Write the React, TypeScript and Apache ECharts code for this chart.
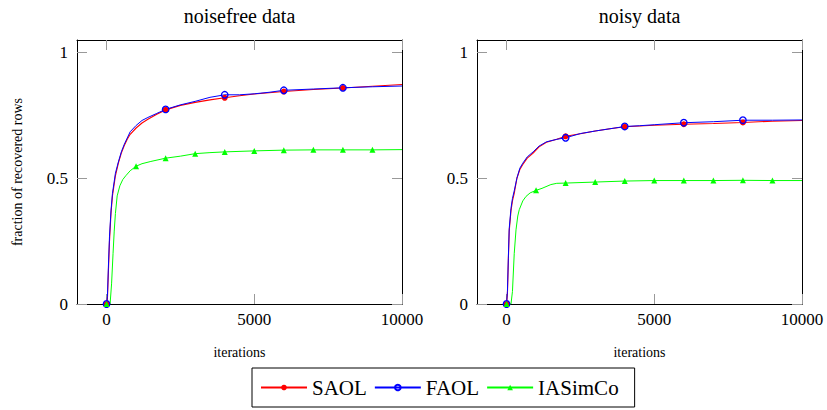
import { useEffect, useRef } from "react";
import * as echarts from "echarts";

const FONT = "Liberation Serif";

// ---- noisefree data ----
const cleanX = [0, 30, 60, 100, 150, 200, 300, 400, 500, 600, 700, 800, 1000, 1200, 1400, 1700, 2000, 2500, 3000, 3500, 4000, 4500, 5000, 5500, 6000, 7000, 8000, 9000, 10000];
const saolClean = [0, 0.02, 0.12, 0.25, 0.36, 0.43, 0.51, 0.56, 0.6, 0.63, 0.655, 0.675, 0.7, 0.72, 0.735, 0.755, 0.772, 0.79, 0.802, 0.812, 0.82, 0.828, 0.835, 0.84, 0.845, 0.853, 0.859, 0.866, 0.873];
const faolClean = [0, 0.03, 0.14, 0.27, 0.37, 0.44, 0.52, 0.565, 0.605, 0.635, 0.66, 0.685, 0.71, 0.73, 0.742, 0.758, 0.774, 0.792, 0.806, 0.822, 0.832, 0.832, 0.836, 0.842, 0.85, 0.855, 0.86, 0.864, 0.867];
const iasCleanX = [0, 120, 170, 220, 260, 300, 360, 450, 550, 650, 800, 1000, 1200, 1500, 2000, 2500, 3000, 3500, 4000, 5000, 6000, 7000, 8000, 9000, 10000];
const iasClean = [0, 0, 0.08, 0.2, 0.29, 0.36, 0.43, 0.47, 0.495, 0.51, 0.53, 0.548, 0.558, 0.567, 0.58, 0.588, 0.598, 0.602, 0.605, 0.609, 0.612, 0.613, 0.613, 0.613, 0.614];

// ---- noisy data ----
const noisyX = [0, 30, 60, 90, 150, 200, 260, 350, 450, 550, 700, 900, 1100, 1350, 1700, 2000, 2500, 3000, 3500, 4000, 4500, 5000, 6000, 7000, 8000, 9000, 10000];
const saolNoisy = [0, 0.04, 0.17, 0.29, 0.37, 0.41, 0.44, 0.5, 0.535, 0.555, 0.58, 0.6, 0.625, 0.643, 0.655, 0.667, 0.677, 0.688, 0.697, 0.705, 0.708, 0.711, 0.715, 0.718, 0.722, 0.727, 0.73];
const faolNoisy = [0, 0.05, 0.18, 0.3, 0.38, 0.42, 0.45, 0.5, 0.54, 0.56, 0.585, 0.605, 0.628, 0.645, 0.655, 0.661, 0.678, 0.688, 0.697, 0.706, 0.709, 0.713, 0.721, 0.725, 0.731, 0.731, 0.732];
const iasNoisyX = [0, 150, 200, 260, 320, 380, 430, 550, 660, 800, 1000, 1200, 1500, 1700, 2000, 3000, 4000, 5000, 6000, 7000, 8000, 9000, 10000];
const iasNoisy = [0, 0, 0.05, 0.2, 0.295, 0.35, 0.375, 0.41, 0.428, 0.442, 0.452, 0.46, 0.475, 0.48, 0.481, 0.485, 0.489, 0.491, 0.491, 0.491, 0.492, 0.491, 0.491];

// ---- marks & ticks ----
const circleMarks = [0, 2000, 4000, 6000, 8000];
const triangleMarks = [0, 1000, 2000, 3000, 4000, 5000, 6000, 7000, 8000, 9000];
const xTicks = [0, 5000, 10000];
const yTicks = [0, 0.5, 1];
const titles = ["noisefree data", "noisy data"];
const seriesNames = ["SAOL", "FAOL", "IASimCo"];

function mk(xs: number[], ys: number[], marks: number[]) {
  return xs.map((x, i) =>
    marks.includes(x) ? { value: [x, ys[i]] } : { value: [x, ys[i]], symbol: "none" }
  );
}

const GRIDS = [
  { left: 77, top: 40, width: 325, height: 264 },
  { left: 477, top: 40, width: 325, height: 264 },
];

export default function App() {
  const ref = useRef<HTMLDivElement>(null);
  useEffect(() => {
    const chart = echarts.init(ref.current!, null, { renderer: "svg" });
    const tickStyle = { show: true, inside: true, length: 10, lineStyle: { color: "#999", width: 1 } };
    const fmt = (v: number) => String(v);
    const xAxes: any[] = [];
    const yAxes: any[] = [];
    [0, 1].forEach((g) => {
      xAxes.push({
        type: "value", gridIndex: g, position: "bottom", min: -1000, max: 10000,
        axisLine: { show: true, onZero: false, lineStyle: { color: "#000", width: 1 } },
        axisTick: { ...tickStyle, customValues: xTicks },
        axisLabel: { customValues: xTicks, formatter: fmt, fontFamily: FONT, fontSize: 17, color: "#000", margin: 7 },
        splitLine: { show: false },
        name: "iterations", nameLocation: "middle", nameGap: 41,
        nameTextStyle: { fontFamily: FONT, fontSize: 14, color: "#000" },
      });
      xAxes.push({
        type: "value", gridIndex: g, position: "top", min: -1000, max: 10000,
        axisLine: { show: true, onZero: false, lineStyle: { color: "#000", width: 1 } },
        axisTick: { ...tickStyle, customValues: xTicks },
        axisLabel: { show: false }, splitLine: { show: false },
      });
      yAxes.push({
        type: "value", gridIndex: g, position: "left", min: 0, max: 1.05,
        axisLine: { show: true, onZero: false, lineStyle: { color: "#000", width: 1 } },
        axisTick: { ...tickStyle, customValues: yTicks },
        axisLabel: { customValues: yTicks, formatter: fmt, fontFamily: FONT, fontSize: 17, color: "#000", margin: 9 },
        splitLine: { show: false },
        name: g === 0 ? "fraction of recovered rows" : "", nameLocation: "middle", nameGap: 53,
        nameTextStyle: { fontFamily: FONT, fontSize: 14, color: "#000" },
      });
      yAxes.push({
        type: "value", gridIndex: g, position: "right", min: 0, max: 1.05,
        axisLine: { show: true, onZero: false, lineStyle: { color: "#000", width: 1 } },
        axisTick: { ...tickStyle, customValues: yTicks },
        axisLabel: { show: false }, splitLine: { show: false },
      });
    });

    const datasets = [
      [mk(cleanX, saolClean, circleMarks), mk(cleanX, faolClean, circleMarks), mk(iasCleanX, iasClean, triangleMarks)],
      [mk(noisyX, saolNoisy, circleMarks), mk(noisyX, faolNoisy, circleMarks), mk(iasNoisyX, iasNoisy, triangleMarks)],
    ];
    const styles = [
      { symbol: "circle", symbolSize: 6, itemStyle: { color: "#ff0000" }, lineStyle: { color: "#ff0000", width: 1.1 } },
      { symbol: "circle", symbolSize: 6.5, itemStyle: { color: "rgba(255,255,255,0)", borderColor: "#0000ff", borderWidth: 1.3 }, lineStyle: { color: "#0000ff", width: 1 } },
      { symbol: "triangle", symbolSize: 6, itemStyle: { color: "#00ff00" }, lineStyle: { color: "#00ff00", width: 1 } },
    ];
    const series: any[] = [];
    [0, 1].forEach((g) => {
      seriesNames.forEach((name, k) => {
        series.push({
          type: "line", name, xAxisIndex: g * 2, yAxisIndex: g * 2,
          data: datasets[g][k], showSymbol: true, showAllSymbol: true,
          ...styles[k], emphasis: { disabled: true },
        });
      });
    });

    chart.setOption({
      animation: false,
      textStyle: { fontFamily: FONT },
      grid: GRIDS,
      xAxis: xAxes,
      yAxis: yAxes,
      series,
      legend: {
        data: seriesNames, left: 252, top: 368, orient: "horizontal",
        borderColor: "#000", borderWidth: 1, borderRadius: 0,
        padding: [9, 16, 9, 8], itemGap: 7, itemWidth: 46, itemHeight: 7,
        textStyle: { fontFamily: FONT, fontSize: 21, color: "#000" },
      },
      graphic: titles.map((t, i) => ({
        type: "text", x: GRIDS[i].left + GRIDS[i].width / 2, y: 16,
        style: { text: t, font: `20px ${FONT}`, fill: "#000", textAlign: "center", textVerticalAlign: "middle" },
      })),
    });
    return () => chart.dispose();
  }, []);
  return <div ref={ref} style={{ position: "fixed", left: 0, top: 0, width: 827, height: 410, background: "#fff" }} />;
}
